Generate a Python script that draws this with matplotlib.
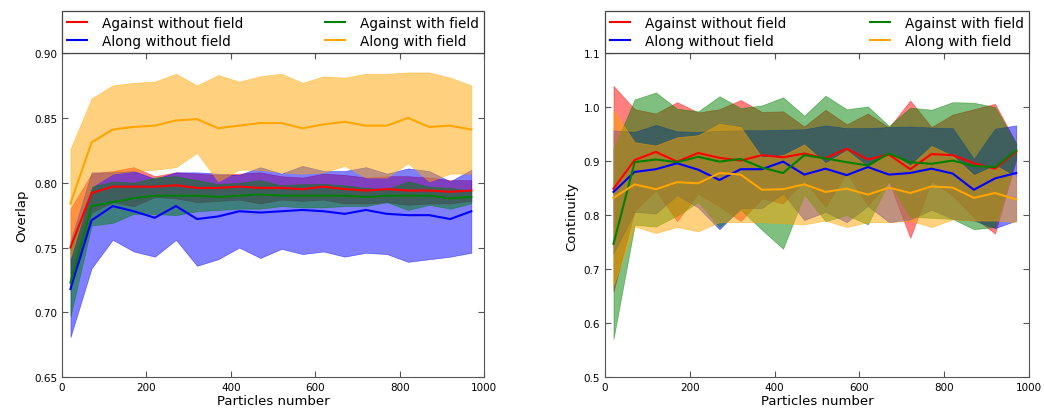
import matplotlib
matplotlib.use("Agg")
import matplotlib.pyplot as plt
import numpy as np

particles = [20, 70, 120, 170, 220, 270, 320, 370, 420, 470,
             520, 570, 620, 670, 720, 770, 820, 870, 920, 970]

labels = ["Against without field", "Along without field",
          "Against with field", "Along with field"]
colors = ["red", "blue", "green", "orange"]

# overlap: mean and standard deviation per particle count
ov_red_mean = [0.750, 0.792, 0.797, 0.797, 0.797, 0.798, 0.796, 0.796, 0.797, 0.796,
               0.796, 0.795, 0.797, 0.795, 0.794, 0.795, 0.794, 0.794, 0.793, 0.794]
ov_red_std = [0.030, 0.015, 0.012, 0.015, 0.008, 0.010, 0.011, 0.010, 0.010, 0.012,
              0.009, 0.009, 0.010, 0.011, 0.010, 0.010, 0.011, 0.010, 0.009, 0.008]
ov_blue_mean = [0.718, 0.771, 0.782, 0.778, 0.773, 0.782, 0.772, 0.774, 0.778, 0.777,
                0.778, 0.779, 0.778, 0.776, 0.779, 0.776, 0.775, 0.775, 0.772, 0.778]
ov_blue_std = [0.037, 0.037, 0.026, 0.031, 0.030, 0.026, 0.036, 0.033, 0.028, 0.035,
               0.029, 0.034, 0.031, 0.033, 0.033, 0.031, 0.036, 0.034, 0.029, 0.032]
ov_green_mean = [0.723, 0.782, 0.785, 0.788, 0.790, 0.790, 0.790, 0.789, 0.790, 0.791,
                 0.790, 0.790, 0.790, 0.790, 0.789, 0.790, 0.790, 0.790, 0.788, 0.789]
ov_green_std = [0.026, 0.015, 0.016, 0.012, 0.014, 0.015, 0.012, 0.010, 0.010, 0.011,
                0.008, 0.009, 0.009, 0.008, 0.007, 0.005, 0.011, 0.007, 0.008, 0.005]
ov_orange_mean = [0.784, 0.831, 0.841, 0.843, 0.844, 0.848, 0.849, 0.842, 0.844, 0.846,
                  0.846, 0.842, 0.845, 0.847, 0.844, 0.844, 0.850, 0.843, 0.844, 0.841]
ov_orange_std = [0.042, 0.034, 0.034, 0.034, 0.034, 0.036, 0.026, 0.041, 0.034, 0.036,
                 0.038, 0.035, 0.037, 0.034, 0.040, 0.040, 0.035, 0.042, 0.037, 0.034]

# continuity: mean and standard deviation per particle count
ct_red_mean = [0.849, 0.902, 0.917, 0.899, 0.915, 0.906, 0.901, 0.911, 0.907, 0.914,
               0.905, 0.923, 0.903, 0.912, 0.885, 0.913, 0.911, 0.896, 0.886, 0.918]
ct_red_std = [0.190, 0.094, 0.071, 0.110, 0.075, 0.090, 0.112, 0.080, 0.085, 0.050,
              0.090, 0.045, 0.085, 0.050, 0.127, 0.050, 0.075, 0.100, 0.120, 0.015]
ct_blue_mean = [0.843, 0.880, 0.885, 0.896, 0.884, 0.865, 0.885, 0.885, 0.899, 0.875,
                0.886, 0.874, 0.889, 0.875, 0.878, 0.886, 0.877, 0.847, 0.868, 0.878]
ct_blue_std = [0.114, 0.074, 0.082, 0.059, 0.070, 0.091, 0.072, 0.072, 0.059, 0.084,
               0.080, 0.087, 0.072, 0.088, 0.086, 0.076, 0.084, 0.057, 0.092, 0.088]
ct_green_mean = [0.747, 0.898, 0.903, 0.898, 0.908, 0.899, 0.904, 0.888, 0.878, 0.911,
                 0.905, 0.898, 0.892, 0.914, 0.898, 0.895, 0.901, 0.891, 0.889, 0.920]
ct_green_std = [0.176, 0.116, 0.124, 0.099, 0.084, 0.121, 0.094, 0.115, 0.140, 0.073,
                0.116, 0.098, 0.109, 0.051, 0.101, 0.100, 0.108, 0.117, 0.111, 0.012]
ct_orange_mean = [0.832, 0.857, 0.848, 0.861, 0.859, 0.878, 0.875, 0.847, 0.848, 0.857,
                  0.843, 0.849, 0.838, 0.851, 0.841, 0.853, 0.851, 0.832, 0.841, 0.829]
ct_orange_std = [0.162, 0.078, 0.081, 0.083, 0.089, 0.091, 0.088, 0.060, 0.063, 0.074,
                 0.053, 0.071, 0.051, 0.064, 0.051, 0.075, 0.059, 0.042, 0.051, 0.042]


def draw_panel(ax, means, stds, ylabel, ylim, yticks):
    x = np.array(particles)
    # bands first, lines on top
    for m, s, c in zip(means, stds, colors):
        m = np.array(m)
        s = np.array(s)
        ax.fill_between(x, m - s, m + s, color=c, alpha=0.5, linewidth=0.5)
    for m, c, lab in zip(means, colors, labels):
        ax.plot(x, m, color=c, linewidth=1.5, label=lab)

    ax.set_xlim(0, 1000)
    ax.set_ylim(*ylim)
    ax.set_xticks([0, 200, 400, 600, 800, 1000])
    ax.set_yticks(yticks)
    ax.tick_params(direction="in", top=True, right=True, labelsize=7.5,
                   length=4, color="#555555")
    for sp in ax.spines.values():
        sp.set_color("#555555")
    ax.set_xlabel("Particles number", fontsize=9.5, labelpad=1)
    ax.set_ylabel(ylabel, fontsize=9.5)

    leg = ax.legend(bbox_to_anchor=(0, 1, 1, 0.1), loc="lower left", mode="expand",
                    ncol=2, borderaxespad=0, fontsize=9.8, handlelength=1.5,
                    handletextpad=1.1, labelspacing=0.3, borderpad=0.35,
                    fancybox=False, framealpha=1)
    leg.get_frame().set_edgecolor("#444444")
    leg.get_frame().set_linewidth(0.9)


fig = plt.figure(figsize=(10.44, 4.10), dpi=100)
ax1 = fig.add_axes([0.0594, 0.0773, 0.4042, 0.791])
ax2 = fig.add_axes([0.5795, 0.0773, 0.4061, 0.791])

draw_panel(ax1,
           [ov_red_mean, ov_blue_mean, ov_green_mean, ov_orange_mean],
           [ov_red_std, ov_blue_std, ov_green_std, ov_orange_std],
           "Overlap", (0.65, 0.90), [0.65, 0.70, 0.75, 0.80, 0.85, 0.90])
ax1.set_yticklabels(["0.65", "0.70", "0.75", "0.80", "0.85", "0.90"])

draw_panel(ax2,
           [ct_red_mean, ct_blue_mean, ct_green_mean, ct_orange_mean],
           [ct_red_std, ct_blue_std, ct_green_std, ct_orange_std],
           "Continuity", (0.5, 1.1), [0.5, 0.6, 0.7, 0.8, 0.9, 1.0, 1.1])

fig.savefig("out.png", dpi=100)
